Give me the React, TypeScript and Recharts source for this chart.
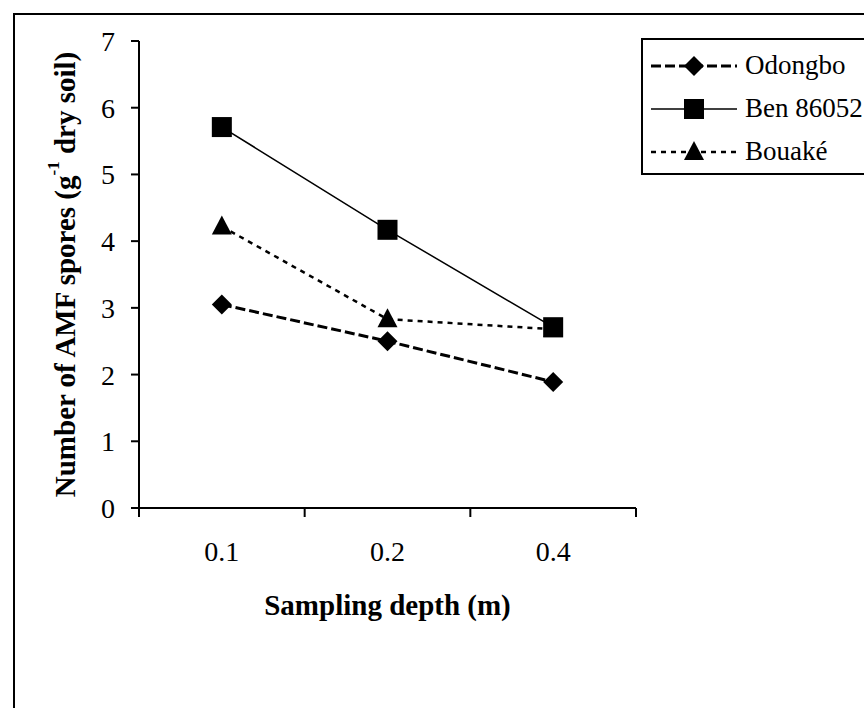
import { LineChart, Line, XAxis, YAxis, Legend, Label } from 'recharts';

const depths = ['0.1', '0.2', '0.4'];
const odongbo = [3.05, 2.5, 1.89];
const ben86052 = [5.71, 4.17, 2.71];
const bouake = [4.22, 2.83, 2.68];
const yTicks = [0, 1, 2, 3, 4, 5, 6, 7];

const rows = depths.map((d, i) => ({
  pos: i + 0.5,
  depth: d,
  odongbo: odongbo[i],
  ben: ben86052[i],
  bouake: bouake[i],
}));

const font = 'Liberation Serif';

const Diamond = ({ cx, cy }: any) => (
  <path d={`M${cx},${cy - 10} L${cx + 10},${cy} L${cx},${cy + 10} L${cx - 10},${cy} Z`} fill="#000" />
);
const Square = ({ cx, cy }: any) => <rect x={cx - 10} y={cy - 10} width={20} height={20} fill="#000" />;
const Triangle = ({ cx, cy }: any) => (
  <path d={`M${cx},${cy - 11} L${cx + 10},${cy + 8} L${cx - 10},${cy + 8} Z`} fill="#000" />
);

const series = [
  { key: 'odongbo', name: 'Odongbo', width: 3, dash: '10 4', Dot: Diamond },
  { key: 'ben', name: 'Ben 86052', width: 1.5, dash: undefined, Dot: Square },
  { key: 'bouake', name: 'Bouaké', width: 2.5, dash: '5 5', Dot: Triangle },
];

const XTick = ({ x, y, payload }: any) => {
  const v = payload.value;
  if (Number.isInteger(v)) {
    return <line x1={x} x2={x} y1={y} y2={y + 9} stroke="#000" strokeWidth={2} />;
  }
  return (
    <text x={x} y={y + 47} textAnchor="middle" dominantBaseline="middle" fontSize={28} style={{ fontFamily: font }} fill="#000">
      {depths[Math.floor(v)]}
    </text>
  );
};

const LegendBox = () => (
  <div
    style={{
      border: '2px solid #000',
      width: 260,
      height: 137,
      boxSizing: 'border-box',
      fontFamily: font,
      fontSize: 27,
      paddingTop: 4,
      background: '#fff',
    }}
  >
    {series.map((s) => (
      <div key={s.key} style={{ display: 'flex', alignItems: 'center', height: 43 }}>
        <svg width={100} height={30} style={{ marginLeft: 6 }}>
          <line x1={2} x2={88} y1={15} y2={15} stroke="#000" strokeWidth={s.width} strokeDasharray={s.dash} />
          <s.Dot cx={45} cy={15} />
        </svg>
        <span style={{ marginLeft: -4, lineHeight: 1 }}>{s.name}</span>
      </div>
    ))}
  </div>
);

export default function App() {
  return (
    <div style={{ position: 'absolute', left: 0, top: 0, width: 864, height: 708, overflow: 'hidden', background: '#fff', fontFamily: font }}>
      <div style={{ position: 'absolute', left: 13, top: 13, width: 900, height: 800, border: '2px solid #000' }} />
      <LineChart width={864} height={708} data={rows} margin={{ top: 41, right: 228, bottom: 140, left: 79 }}>
        <XAxis
          dataKey="pos"
          type="number"
          domain={[0, 3]}
          ticks={[0, 0.5, 1, 1.5, 2, 2.5, 3]}
          tick={<XTick />}
          tickLine={false}
          tickSize={0}
          tickMargin={0}
          height={60}
          axisLine={{ stroke: '#000', strokeWidth: 2 }}
          interval={0}
        >
          <Label
            content={({ viewBox }: any) => (
              <text
                x={viewBox.x + viewBox.width / 2}
                y={viewBox.y + 100}
                textAnchor="middle"
                dominantBaseline="middle"
                fontSize={29}
                fontWeight="bold"
                style={{ fontFamily: font }}
                fill="#000"
              >
                Sampling depth (m)
              </text>
            )}
          />
        </XAxis>
        <YAxis
          type="number"
          domain={[0, 7]}
          ticks={yTicks}
          interval={0}
          width={60}
          tickSize={8}
          tickMargin={16}
          axisLine={{ stroke: '#000', strokeWidth: 2 }}
          tickLine={{ stroke: '#000', strokeWidth: 2 }}
          tick={{ fontSize: 28, style: { fontFamily: font }, fill: '#000' }}
        >
          <Label
            content={({ viewBox }: any) => {
              const cx = viewBox.x - 11;
              const cy = viewBox.y + viewBox.height / 2;
              return (
                <text
                  x={cx}
                  y={cy}
                  transform={`rotate(-90 ${cx} ${cy})`}
                  textAnchor="middle"
                  dominantBaseline="middle"
                  fontSize={29}
                  fontWeight="bold"
                  style={{ fontFamily: font }}
                  fill="#000"
                >
                  Number of AMF spores (g
                  <tspan dy={-13} fontSize={17}>-1</tspan>
                  <tspan dy={13}> dry soil)</tspan>
                </text>
              );
            }}
          />
        </YAxis>
        <Legend
          layout="horizontal"
          verticalAlign="middle"
          align="center"
          content={<LegendBox />}
          wrapperStyle={{ position: 'absolute', left: 641, top: 38, width: 260 }}
        />
        {series.map((s) => (
          <Line
            key={s.key}
            dataKey={s.key}
            name={s.name}
            stroke="#000"
            strokeWidth={s.width}
            strokeDasharray={s.dash}
            dot={<s.Dot />}
            activeDot={false}
            isAnimationActive={false}
          />
        ))}
      </LineChart>
    </div>
  );
}
